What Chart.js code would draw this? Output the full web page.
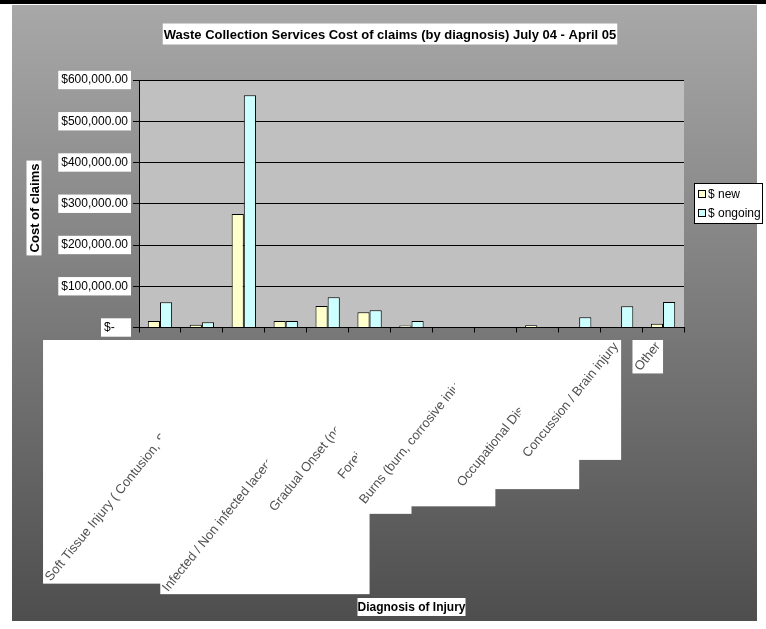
<!DOCTYPE html>
<html lang="en">
<head>
<meta charset="UTF-8">
<title>Waste Collection Services Cost of claims</title>
<script src="https://cdn.jsdelivr.net/npm/chart.js"></script>
<style>
  body { margin: 0; background: #fff; }
  #wrap { width: 766px; height: 629px; }
</style>
</head>
<body>
<div id="wrap"><canvas id="claimsChart"></canvas></div>
<script>
// data
const categories = [
  'Fractures',
  'Dislocation',
  'Soft Tissue Injury ( Contusion, Sprain, Strain, Tears )',
  'Eye Injury',
  'Hernia',
  'Infected / Non infected laceration, abrasion or puncture',
  'Gradual Onset (not otherwise stated)',
  'Foreign Body (eye, ear, nose)',
  'Burns (burn, corrosive injury, scald)',
  'Poisoning',
  'Occupational Disease / Asthma',
  'Concussion / Brain injury',
  'Other'
];
const newCosts = [15500, 6500, 275000, 15500, 52000, 37000, 5000, 1000, 0, 5500, 0, 0, 9000];
const ongoingCosts = [61500, 13000, 563000, 15500, 73500, 42000, 15500, 0, 1000, 0, 25000, 51700, 62000];
const yTickLabels = ['$-    ', '$100,000.00', '$200,000.00', '$300,000.00', '$400,000.00', '$500,000.00', '$600,000.00'];
const seriesNames = ['$ new', '$ ongoing'];

const chartTitle = 'Waste Collection Services Cost of claims (by diagnosis) July 04 - April 05';
const yTitle = 'Cost of claims';
const xTitle = 'Diagnosis of Injury';

// outer gradient panel
const frame = { left: 12, top: 5, right: 757, bottom: 621 };
const labelAngle = 51 * Math.PI / 180;
const FONT = '"Liberation Sans", Arial, sans-serif';

function boxedText(ctx, text, cx, cy, padX, padY, size, rotate) {
  ctx.save();
  ctx.font = 'bold ' + size + 'px ' + FONT;
  const w = ctx.measureText(text).width;
  ctx.translate(cx, cy);
  if (rotate) ctx.rotate(-Math.PI / 2);
  ctx.fillStyle = '#fff';
  ctx.fillRect(-w / 2 - padX, -size / 2 - padY, w + padX * 2, size + padY * 2);
  ctx.fillStyle = '#000';
  ctx.textAlign = 'center';
  ctx.textBaseline = 'middle';
  ctx.fillText(text, 0, 1);
  ctx.restore();
}

const decor = {
  id: 'decor',
  beforeDraw(chart) {
    const ctx = chart.ctx, a = chart.chartArea;
    ctx.save();
    ctx.fillStyle = '#fff';
    ctx.fillRect(0, 0, chart.width, chart.height);
    const g = ctx.createLinearGradient(0, frame.top, 0, frame.bottom);
    g.addColorStop(0, '#a8a8a8');
    g.addColorStop(1, '#4e4e4e');
    ctx.fillStyle = g;
    ctx.fillRect(frame.left, frame.top, frame.right - frame.left, frame.bottom - frame.top);
    ctx.fillStyle = '#000';
    ctx.fillRect(0, 0, chart.width, 4);
    ctx.fillStyle = '#c0c0c0';
    ctx.fillRect(a.left, a.top, a.right - a.left, a.bottom - a.top);
    ctx.restore();
  },
  afterDraw(chart) {
    const ctx = chart.ctx, a = chart.chartArea;
    const xs = chart.scales.x;

    // category labels, each with its own white box, later ones on top
    ctx.save();
    ctx.beginPath();
    ctx.rect(frame.left, frame.top, frame.right - frame.left, frame.bottom - frame.top);
    ctx.clip();
    ctx.font = '13px ' + FONT;
    const fh = 13, top = a.bottom + 12.5;
    const s = Math.sin(labelAngle), c = Math.cos(labelAngle);
    categories.forEach((lab, i) => {
      const cx = xs.getPixelForValue(i);
      const w = ctx.measureText(lab).width;
      const bw = w * c + fh * s, bh = w * s + fh * c;
      ctx.fillStyle = '#fff';
      ctx.fillRect(cx - bw, top, bw, bh);
      ctx.save();
      ctx.translate(cx - fh / 2 * s, top + fh / 2 * c);
      ctx.rotate(-labelAngle);
      ctx.fillStyle = '#505050';
      ctx.textAlign = 'right';
      ctx.textBaseline = 'middle';
      ctx.fillText(lab, 0, 0);
      ctx.restore();
    });
    ctx.restore();

    // titles
    boxedText(ctx, chartTitle, 390, 34, 1, 4, 13, false);
    boxedText(ctx, yTitle, 34, 208, 3, 1, 13, true);
    boxedText(ctx, xTitle, (a.left + a.right) / 2, 607, 0, 3, 12, false);

    // legend
    ctx.save();
    ctx.fillStyle = '#fff';
    ctx.strokeStyle = '#000';
    ctx.lineWidth = 1;
    ctx.fillRect(694.5, 183.5, 68, 40);
    ctx.strokeRect(694.5, 183.5, 68, 40);
    ctx.font = '12px ' + FONT;
    ctx.textBaseline = 'middle';
    chart.data.datasets.forEach((ds, i) => {
      const y = 194 + i * 19;
      ctx.fillStyle = ds.backgroundColor;
      ctx.fillRect(698.5, y - 3.5, 7, 7);
      ctx.strokeRect(698.5, y - 3.5, 7, 7);
      ctx.fillStyle = '#000';
      ctx.fillText(ds.label, 708, y + 1);
    });
    ctx.restore();
  }
};

new Chart(document.getElementById('claimsChart'), {
  type: 'bar',
  data: {
    labels: categories,
    datasets: [
      { label: seriesNames[0], data: newCosts, backgroundColor: '#ffffcc', borderColor: '#000', borderWidth: 1 },
      { label: seriesNames[1], data: ongoingCosts, backgroundColor: '#ccffff', borderColor: '#000', borderWidth: 1 }
    ]
  },
  options: {
    responsive: true,
    maintainAspectRatio: false,
    animation: false,
    categoryPercentage: 0.58,
    barPercentage: 1.0,
    layout: { padding: { top: 80, right: 82, left: 0, bottom: 0 } },
    plugins: { legend: { display: false }, title: { display: false }, tooltip: { enabled: false } },
    scales: {
      x: {
        grid: { offset: true, drawOnChartArea: false, color: '#000', tickLength: 5 },
        border: { color: '#000' },
        ticks: { display: false },
        afterFit(scale) { scale.height = 301.5; }
      },
      y: {
        min: 0,
        max: 600000,
        grid: { color: '#000', tickLength: 6 },
        border: { color: '#000' },
        ticks: {
          stepSize: 100000,
          color: '#000',
          padding: 5,
          font: { family: FONT, size: 12 },
          showLabelBackdrop: true,
          backdropColor: '#fff',
          backdropPadding: { top: 2, bottom: 2, left: 3, right: 3 },
          callback: (v, i) => yTickLabels[i]
        },
        afterFit(scale) { scale.width = 139; }
      }
    }
  },
  plugins: [decor]
});
</script>
</body>
</html>
